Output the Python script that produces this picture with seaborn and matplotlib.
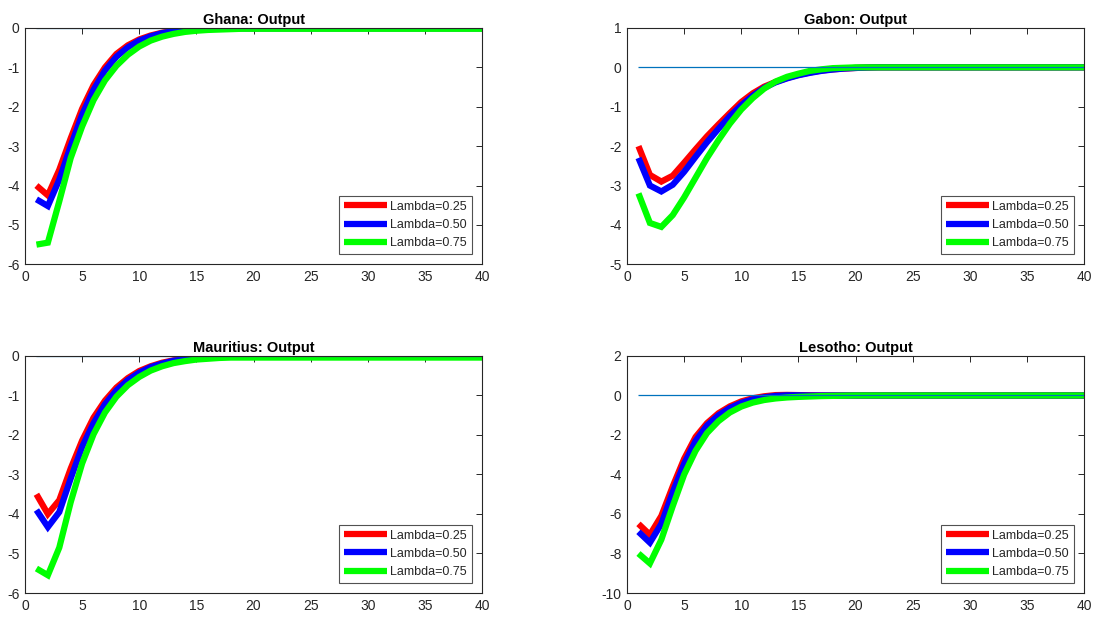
import numpy as np
import pandas as pd
import matplotlib
matplotlib.use("Agg")
import matplotlib.pyplot as plt
import seaborn as sns

periods = list(range(1, 41))
lambda_labels = ["Lambda=0.25", "Lambda=0.50", "Lambda=0.75"]
line_colors = ["#FF0000", "#0000FF", "#00FF00"]

def tail(vals, last, n=40):
    return list(vals) + [last] * (n - len(vals))

ghana_l25 = tail([-4.0, -4.25, -3.6, -2.8, -2.05, -1.45, -1.0, -0.66, -0.44, -0.29, -0.19, -0.12,
                  -0.07, -0.04, -0.02, -0.01, 0.0], 0.0)
ghana_l50 = tail([-4.35, -4.52, -3.85, -3.0, -2.2, -1.57, -1.08, -0.73, -0.49, -0.32, -0.21, -0.13,
                  -0.08, -0.05, -0.03, -0.02, -0.01], -0.01)
ghana_l75 = tail([-5.5, -5.45, -4.4, -3.3, -2.5, -1.83, -1.33, -0.96, -0.68, -0.47, -0.32, -0.22,
                  -0.15, -0.1, -0.07, -0.05, -0.04, -0.03], -0.02)

gabon_l25 = tail([-2.0, -2.73, -2.9, -2.75, -2.42, -2.08, -1.75, -1.45, -1.16, -0.88, -0.66, -0.49,
                  -0.37, -0.27, -0.19, -0.13, -0.08, -0.05, -0.03, -0.015, -0.005], 0.0)
gabon_l50 = tail([-2.3, -3.0, -3.15, -2.98, -2.65, -2.27, -1.9, -1.56, -1.24, -0.96, -0.72, -0.52,
                  -0.38, -0.28, -0.2, -0.14, -0.09, -0.055, -0.03, -0.015, -0.005], 0.0)
gabon_l75 = tail([-3.2, -3.95, -4.05, -3.75, -3.3, -2.8, -2.3, -1.85, -1.43, -1.07, -0.78, -0.54,
                  -0.36, -0.24, -0.16, -0.09, -0.05, -0.02, -0.01], 0.0)

maur_l25 = tail([-3.5, -4.0, -3.65, -2.85, -2.14, -1.56, -1.13, -0.8, -0.56, -0.38, -0.26, -0.17,
                 -0.11, -0.07, -0.04, -0.02, -0.01, 0.0], 0.0)
maur_l50 = tail([-3.9, -4.33, -3.95, -3.1, -2.3, -1.7, -1.22, -0.87, -0.61, -0.42, -0.28, -0.19,
                 -0.12, -0.08, -0.05, -0.03, -0.02, -0.01], -0.01)
maur_l75 = tail([-5.38, -5.55, -4.85, -3.7, -2.72, -1.98, -1.43, -1.03, -0.74, -0.53, -0.37, -0.26,
                 -0.18, -0.13, -0.09, -0.07, -0.05, -0.04], -0.04)

les_l25 = tail([-6.5, -7.05, -6.1, -4.6, -3.2, -2.1, -1.4, -0.9, -0.55, -0.3, -0.14, -0.04,
                0.02, 0.03, 0.02, 0.01], 0.0)
les_l50 = tail([-6.9, -7.45, -6.5, -4.9, -3.45, -2.3, -1.52, -1.0, -0.63, -0.37, -0.2, -0.09,
                -0.02, 0.01, 0.01], 0.0)
les_l75 = tail([-8.0, -8.5, -7.3, -5.6, -4.0, -2.8, -1.9, -1.3, -0.86, -0.56, -0.36, -0.23,
                -0.15, -0.1, -0.07, -0.05, -0.03, -0.02, -0.01], 0.0)

titles = ["Ghana: Output", "Gabon: Output", "Mauritius: Output", "Lesotho: Output"]
series = [
    [ghana_l25, ghana_l50, ghana_l75],
    [gabon_l25, gabon_l50, gabon_l75],
    [maur_l25, maur_l50, maur_l75],
    [les_l25, les_l50, les_l75],
]
ylims = [(-6, 0), (-5, 1), (-6, 0), (-10, 2)]
yticks = [list(range(-6, 1)), list(range(-5, 2)), list(range(-6, 1)), list(range(-10, 3, 2))]
xticks = list(range(0, 41, 5))

sns.set_style("white")
plt.rcParams["font.family"] = ["Liberation Sans", "DejaVu Sans"]
plt.rcParams["axes.unicode_minus"] = False
plt.rcParams["lines.solid_capstyle"] = "butt"
plt.rcParams["lines.solid_joinstyle"] = "miter"

fig = plt.figure(figsize=(10.97, 6.19), dpi=100)
W = 0.4166
positions = [
    (0.0228, 0.5730, W, 0.3818),
    (0.5716, 0.5730, W, 0.3818),
    (0.0228, 0.0420, W, 0.3829),
    (0.5716, 0.0420, W, 0.3829),
]
axcol = "#262626"
LW = 4.5

for pos, title, ser, yl, yt in zip(positions, titles, series, ylims, yticks):
    ax = fig.add_axes(pos)
    rows = []
    for lab, vals in zip(lambda_labels, ser):
        for p, v in zip(periods, vals):
            rows.append({"period": p, "value": v, "lambda": lab})
    df = pd.DataFrame(rows)
    zero_df = pd.DataFrame({"period": periods, "value": [0.0] * len(periods)})
    sns.lineplot(data=df, x="period", y="value", hue="lambda", hue_order=lambda_labels,
                 palette=line_colors, linewidth=LW, ax=ax, zorder=2)
    sns.lineplot(data=zero_df, x="period", y="value", ax=ax, color="#0072BD",
                 linewidth=0.9, legend=False, zorder=3)
    ax.set_xlim(0, 40)
    ax.set_ylim(*yl)
    ax.set_xticks(xticks)
    ax.set_yticks(yt)
    ax.set_xlabel("")
    ax.set_ylabel("")
    ax.set_title(title, fontsize=10.5, fontweight="bold", color="black", pad=3)
    ax.tick_params(direction="in", top=True, right=True, length=4, width=0.7,
                   labelsize=10, colors=axcol, labelcolor=axcol, pad=4)
    for sp in ax.spines.values():
        sp.set_color(axcol)
        sp.set_linewidth(0.8)
        sp.set_visible(True)
        sp.set_zorder(4)
    handles, labels = ax.get_legend_handles_labels()
    leg = ax.legend(handles[:3], labels[:3], loc="lower right", fontsize=9, frameon=True,
                    fancybox=False, edgecolor=axcol, handlelength=3.4,
                    borderaxespad=0.8, labelspacing=0.5, handletextpad=0.3,
                    borderpad=0.4)
    leg.set_zorder(5)
    leg.get_frame().set_linewidth(0.8)
    for lh in leg.get_lines():
        lh.set_linewidth(LW)

fig.savefig("out.png", dpi=100)
